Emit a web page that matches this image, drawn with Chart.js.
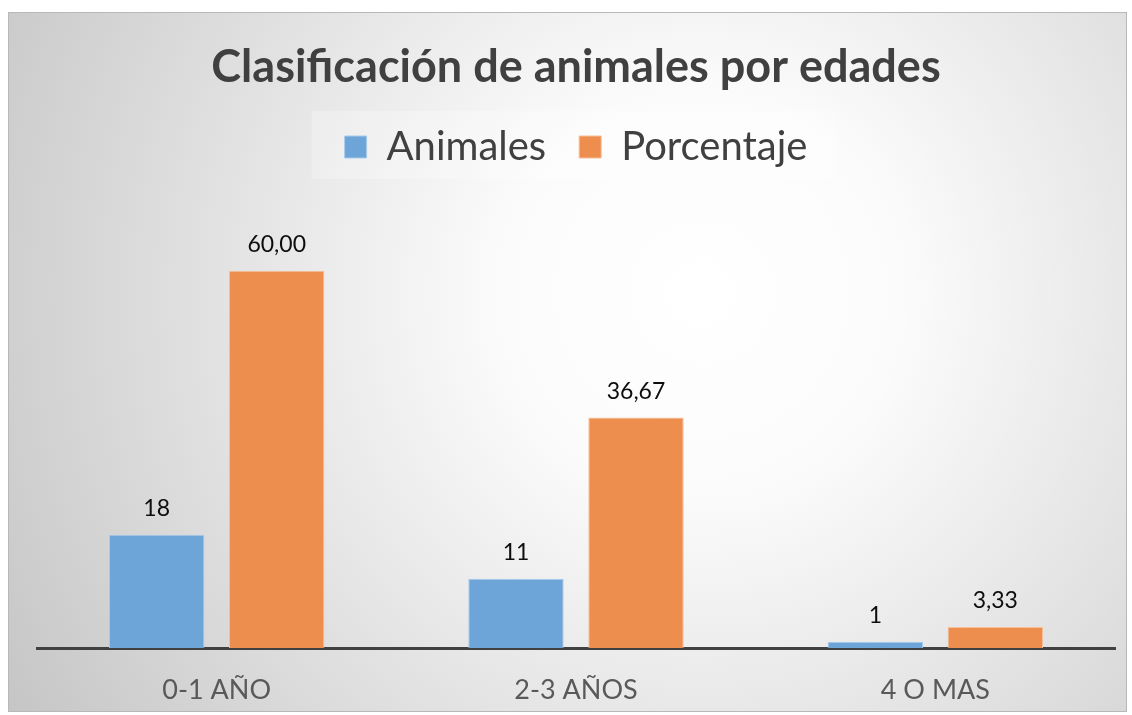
<!DOCTYPE html>
<html>
<head>
<meta charset="utf-8">
<script src="https://cdn.jsdelivr.net/npm/chart.js@4/dist/chart.umd.min.js"></script>
<style>
    body { margin: 0; background: #ffffff; }
    #frame { position: absolute; left: 8px; top: 12px; width: 1119px; height: 700px; border: 1px solid #b8b8b8; box-sizing: border-box; }
</style>
</head>
<body>
<div id="frame"><canvas id="chartDisplay"></canvas></div>
<script>
"use strict";

// Chart data
var categories = ['0-1 AÑO', '2-3 AÑOS', '4 O MAS'];
var animales = [18, 11, 1];
var porcentaje = [60.00, 36.67, 3.33];
var yMax = 70;

// Soft radial background like the office chart style
var backgroundPlugin = {
    id: 'bg',
    beforeDraw: function (chart) {
        var ctx = chart.ctx;
        var w = chart.width, h = chart.height;
        var g = ctx.createRadialGradient(w * 0.62, h * 0.4, 0, w * 0.62, h * 0.4, w * 0.72);
        g.addColorStop(0, '#ffffff');
        g.addColorStop(0.25, '#fbfbfb');
        g.addColorStop(1, '#c6c6c6');
        ctx.save();
        ctx.fillStyle = g;
        ctx.fillRect(0, 0, w, h);

        // faint white panel behind the legend
        var boxes = chart.legend.legendHitBoxes;
        if (boxes && boxes.length) {
            var first = boxes[0], last = boxes[boxes.length - 1];
            var x0 = first.left - 33, x1 = last.left + last.width + 30;
            var y0 = first.top - 16, y1 = first.top + first.height + 12;
            ctx.fillStyle = 'rgba(255,255,255,0.25)';
            ctx.fillRect(x0, y0, x1 - x0, y1 - y0);
        }
        ctx.restore();
    }
};

// Extra room under the legend
var legendGapPlugin = {
    id: 'legendGap',
    beforeInit: function (chart) {
        var fit = chart.legend.fit;
        chart.legend.fit = function () {
            fit.bind(chart.legend)();
            this.height += 31;
        };
    }
};

// Value labels above the bars
var valueLabelPlugin = {
    id: 'valueLabels',
    afterDatasetsDraw: function (chart) {
        var ctx = chart.ctx;
        ctx.save();
        ctx.font = '23px Lato';
        ctx.fillStyle = '#0d0d0d';
        ctx.textAlign = 'center';
        ctx.textBaseline = 'middle';
        chart.data.datasets.forEach(function (ds, i) {
            chart.getDatasetMeta(i).data.forEach(function (bar, j) {
                var v = ds.data[j];
                var txt = i === 0 ? String(v) : v.toFixed(2).replace('.', ',');
                ctx.fillText(txt, bar.x, bar.y - 26);
            });
        });
        ctx.restore();
    }
};

var ctx = document.getElementById('chartDisplay').getContext('2d');
var chart = new Chart(ctx, {
    type: 'bar',
    data: {
        labels: categories,
        datasets: [{
            label: 'Animales',
            data: animales,
            backgroundColor: '#6ea5d9',
            borderColor: '#a9cbeb',
            borderWidth: 1
        }, {
            label: 'Porcentaje',
            data: porcentaje,
            backgroundColor: '#ee8e4e',
            borderColor: '#f6bf98',
            borderWidth: 1
        }]
    },
    options: {
        responsive: true,
        maintainAspectRatio: false,
        animation: false,
        datasets: {
            bar: { categoryPercentage: 0.668, barPercentage: 0.795 }
        },
        layout: { padding: { left: 28, right: 11, top: 0, bottom: 0 } },
        plugins: {
            title: {
                display: true,
                text: 'Clasificación de animales por edades',
                color: '#404040',
                font: { family: 'Lato', size: 45, weight: 'bold' },
                padding: { top: 27, bottom: 0 }
            },
            legend: {
                display: true,
                labels: {
                    color: '#404040',
                    font: { family: 'Lato', size: 40 },
                    boxWidth: 22,
                    boxHeight: 22,
                    padding: 33
                }
            },
            tooltip: { enabled: false }
        },
        scales: {
            x: {
                grid: { display: false },
                border: { display: true, color: '#404040', width: 3 },
                ticks: {
                    color: '#595959',
                    font: { family: 'Lato', size: 27 },
                    padding: 18
                },
                afterFit: function (scale) {
                    scale.height = 63;
                }
            },
            y: {
                display: false,
                min: 0,
                max: yMax
            }
        }
    },
    plugins: [backgroundPlugin, legendGapPlugin, valueLabelPlugin]
});
</script>
</body>
</html>
